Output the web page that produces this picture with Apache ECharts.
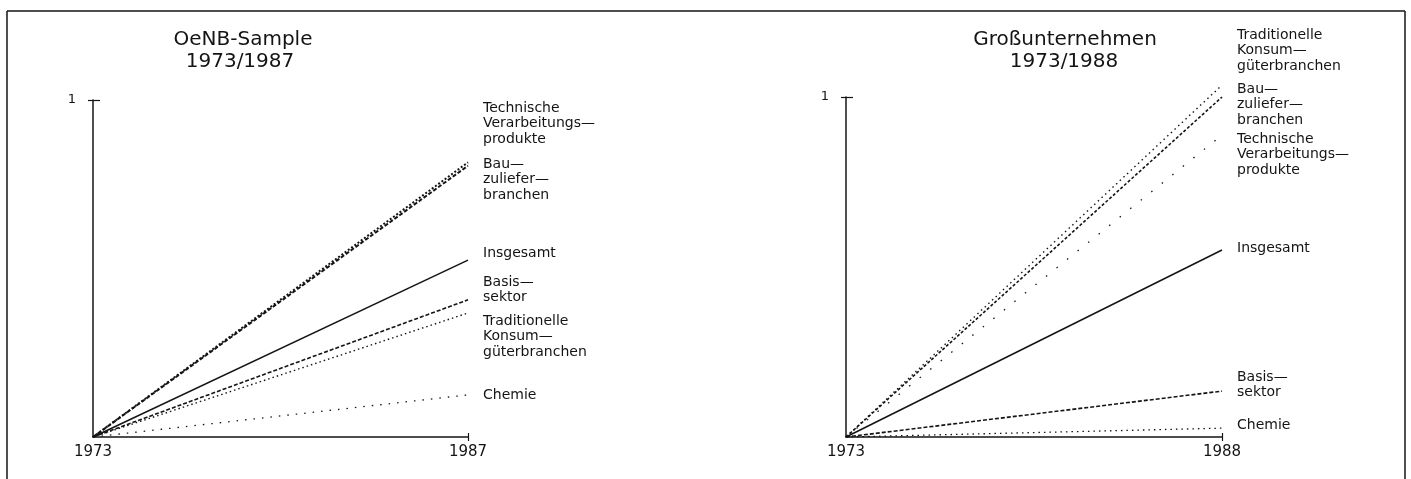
<!DOCTYPE html>
<html>
<head>
<meta charset="utf-8">
<script src="https://cdn.jsdelivr.net/npm/echarts@6/dist/echarts.min.js"></script>
<style>
html,body{margin:0;padding:0;background:#fff;}
#chart{width:1411px;height:479px;}
</style>
</head>
<body>
<div id="chart"></div>
<script>
// ---------- DATA ----------
const leftTitle = ['OeNB-Sample', '1973/1987'];
const rightTitle = ['Großunternehmen', '1973/1988'];
const leftYears = [1973, 1987];
const rightYears = [1973, 1988];
const yTopLabel = '1';

// left panel (OeNB-Sample), values start/end
const leftTechnische = [0, 0.815];
const leftBau = [0, 0.805];
const leftInsgesamt = [0, 0.525];
const leftBasis = [0, 0.407];
const leftTraditionelle = [0, 0.368];
const leftChemie = [0, 0.125];

// right panel (Großunternehmen)
const rightTraditionelle = [0, 1.035];
const rightBau = [0, 1.0];
const rightTechnische = [0, 0.888];
const rightInsgesamt = [0, 0.55];
const rightBasis = [0, 0.135];
const rightChemie = [0, 0.026];

// label texts
const lblTechnische = ['Technische', 'Verarbeitungs—', 'produkte'];
const lblBau = ['Bau—', 'zuliefer—', 'branchen'];
const lblInsgesamt = ['Insgesamt'];
const lblBasis = ['Basis—', 'sektor'];
const lblTraditionelle = ['Traditionelle', 'Konsum—', 'güterbranchen'];
const lblChemie = ['Chemie'];

// ---------- CHART ----------
const chart = echarts.init(document.getElementById('chart'), null, {renderer: 'canvas'});
const INK = '#141414';
const FONT = 'DejaVu Sans';

function pairs(years, vals) { return years.map((y, i) => [y, vals[i]]); }

function line(name, years, vals, axisIdx, type, width) {
  return {
    name: name, type: 'line', xAxisIndex: axisIdx, yAxisIndex: axisIdx,
    data: pairs(years, vals), symbol: 'none', showSymbol: false, clip: false,
    silent: true, animation: false,
    lineStyle: {color: INK, width: width, type: type, cap: 'butt'}
  };
}

function mainX(grid, years) {
  return {
    gridIndex: grid, type: 'value', min: years[0], max: years[1], position: 'bottom',
    axisLine: {show: true, onZero: false, lineStyle: {color: INK, width: 1.5}},
    axisTick: {show: true, customValues: [years[1]], inside: true, length: 4, lineStyle: {color: INK, width: 1.2}},
    axisLabel: {show: true, customValues: [years[0], years[1]], formatter: v => String(v), color: INK, fontFamily: FONT, fontSize: 15, margin: 8},
    splitLine: {show: false}
  };
}
function ghostX(grid, years) {
  return {
    gridIndex: grid, type: 'value', min: years[0], max: years[1], position: 'bottom',
    axisLine: {show: false, onZero: false},
    axisTick: {show: true, customValues: [years[1]], inside: false, length: 4, lineStyle: {color: INK, width: 1.2}},
    axisLabel: {show: false}, splitLine: {show: false}
  };
}
function mainY(grid) {
  return {
    gridIndex: grid, type: 'value', min: 0, max: 1, position: 'left',
    axisLine: {show: true, onZero: false, lineStyle: {color: INK, width: 1.5}},
    axisTick: {show: true, customValues: [1], inside: true, length: 7, lineStyle: {color: INK, width: 1.2}},
    axisLabel: {show: true, customValues: [1], formatter: () => yTopLabel, color: INK, fontFamily: FONT, fontSize: 13, margin: 17},
    splitLine: {show: false}
  };
}
function ghostY(grid) {
  return {
    gridIndex: grid, type: 'value', min: 0, max: 1, position: 'left',
    axisLine: {show: false, onZero: false},
    axisTick: {show: true, customValues: [1], inside: false, length: 5, lineStyle: {color: INK, width: 1.2}},
    axisLabel: {show: false}, splitLine: {show: false}
  };
}

function textLines(lines, x, yFirst, size, align) {
  return lines.map((t, i) => ({
    type: 'text', x: x, y: yFirst + i * 15.5, silent: true,
    style: {text: t, fill: INK, font: size + 'px "' + FONT + '"', textAlign: align || 'left', textVerticalAlign: 'middle'}
  }));
}

const LX = 483, RX = 1237;
const graphics = [].concat(
  // frame
  [{type: 'line', shape: {x1: 7, y1: 11, x2: 1405, y2: 11}, style: {stroke: INK, lineWidth: 1.5}, silent: true},
   {type: 'line', shape: {x1: 7, y1: 11, x2: 7, y2: 479}, style: {stroke: INK, lineWidth: 1.5}, silent: true},
   {type: 'line', shape: {x1: 1405, y1: 11, x2: 1405, y2: 479}, style: {stroke: INK, lineWidth: 1.5}, silent: true}],
  // titles
  [{type: 'text', x: 243, y: 40, silent: true, style: {text: leftTitle[0], fill: INK, font: '20px "DejaVu Sans"', textAlign: 'center', textVerticalAlign: 'middle'}},
   {type: 'text', x: 240, y: 62, silent: true, style: {text: leftTitle[1], fill: INK, font: '20px "DejaVu Sans"', textAlign: 'center', textVerticalAlign: 'middle'}},
   {type: 'text', x: 1065, y: 40, silent: true, style: {text: rightTitle[0], fill: INK, font: '20px "DejaVu Sans"', textAlign: 'center', textVerticalAlign: 'middle'}},
   {type: 'text', x: 1064, y: 62, silent: true, style: {text: rightTitle[1], fill: INK, font: '20px "DejaVu Sans"', textAlign: 'center', textVerticalAlign: 'middle'}}],
  // left labels
  textLines(lblTechnische, LX, 108, 14),
  textLines(lblBau, LX, 164, 14),
  textLines(lblInsgesamt, LX, 253, 14),
  textLines(lblBasis, LX, 282, 14),
  textLines(lblTraditionelle, LX, 321, 14),
  textLines(lblChemie, LX, 395, 14),
  // right labels
  textLines(lblTraditionelle, RX, 35, 14),
  textLines(lblBau, RX, 89, 14),
  textLines(lblTechnische, RX, 139, 14),
  textLines(lblInsgesamt, RX, 248, 14),
  textLines(lblBasis, RX, 377, 14),
  textLines(lblChemie, RX, 425, 14)
);

const option = {
  backgroundColor: '#fff',
  animation: false,
  grid: [
    {left: 93, top: 100, width: 375, height: 337, containLabel: false},
    {left: 846, top: 97, width: 376, height: 340, containLabel: false}
  ],
  xAxis: [mainX(0, leftYears), mainX(1, rightYears), ghostX(0, leftYears), ghostX(1, rightYears)],
  yAxis: [mainY(0), mainY(1), ghostY(0), ghostY(1)],
  series: [
    line('Technische Verarbeitungsprodukte', leftYears, leftTechnische, 0, [2, 2], 2),
    line('Bauzulieferbranchen', leftYears, leftBau, 0, [4, 2], 2),
    line('Insgesamt', leftYears, leftInsgesamt, 0, 'solid', 1.5),
    line('Basissektor', leftYears, leftBasis, 0, [4, 2], 1.6),
    line('Traditionelle Konsumgüterbranchen', leftYears, leftTraditionelle, 0, [1.5, 3], 1.4),
    line('Chemie', leftYears, leftChemie, 0, [1.5, 7], 1.3),

    line('Traditionelle Konsumgüterbranchen', rightYears, rightTraditionelle, 1, [1.5, 3.5], 1.4),
    line('Bauzulieferbranchen', rightYears, rightBau, 1, [3, 2], 1.6),
    line('Technische Verarbeitungsprodukte', rightYears, rightTechnische, 1, [1.5, 12], 1.3),
    line('Insgesamt', rightYears, rightInsgesamt, 1, 'solid', 1.5),
    line('Basissektor', rightYears, rightBasis, 1, [4, 2], 1.6),
    line('Chemie', rightYears, rightChemie, 1, [1.5, 4], 1.3)
  ],
  graphic: graphics
};
chart.setOption(option);
</script>
</body>
</html>
